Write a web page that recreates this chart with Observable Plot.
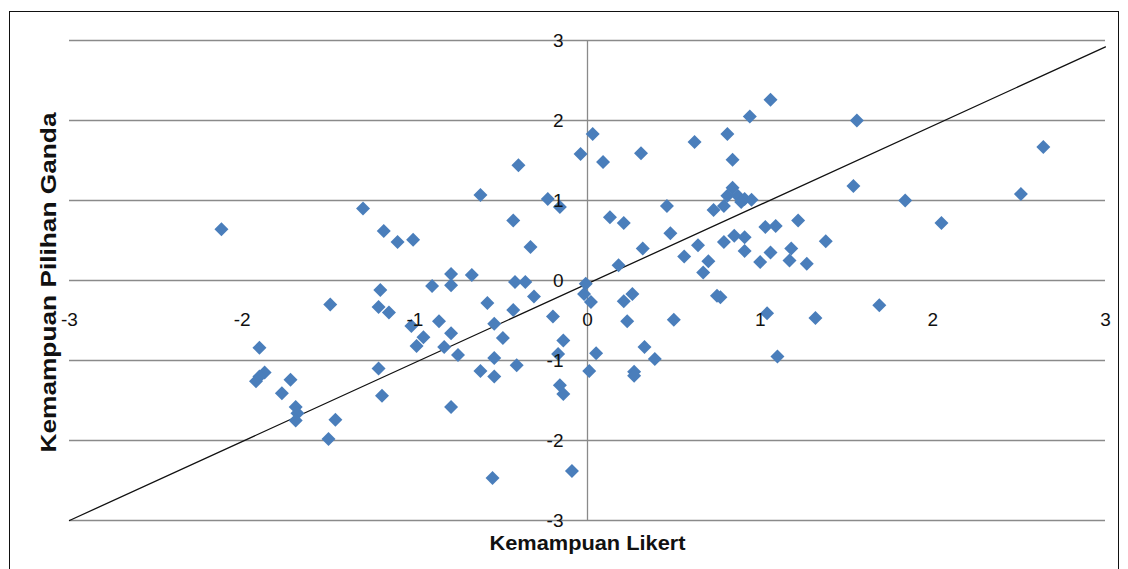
<!DOCTYPE html>
<html>
<head>
<meta charset="utf-8">
<script src="https://cdn.jsdelivr.net/npm/d3@7"></script>
<script src="https://cdn.jsdelivr.net/npm/@observablehq/plot@0.6"></script>
<style>
  html, body { margin: 0; padding: 0; background: #fff; }
  #wrap { position: relative; width: 1128px; height: 569px; overflow: hidden; background: #fff; }
  #frame { position: absolute; left: 9px; top: 11px; width: 1110px; height: 620px; border: 1.5px solid #111; box-sizing: border-box; pointer-events: none; }
  #wrap svg { position: absolute; left: 0; top: 0; }
</style>
</head>
<body>
<div id="wrap"><div id="frame"></div></div>
<script>
// Kemampuan Likert (x) and Kemampuan Pilihan Ganda (y)
const likert = [
  -2.12, -1.30, -1.18, -1.10, -1.01, -1.20, -1.49, -1.21, -1.15, -1.02, -0.99, -1.90,
  -1.87, -1.90, -1.92, -1.72, -1.77, -1.21, -1.19, -1.69, -1.68, -1.69, -1.46, -1.50,
  -0.04, -0.40, -0.62, -0.23, -0.16, -0.43, -0.33, -0.79, -0.67, -0.79, -0.90, -0.42,
  -0.36, -0.31, -0.58, -0.43, -0.20, -0.01, -0.02, 0.02, -0.86, -0.54, -0.95, -0.79,
  -0.83, -0.75, -0.49, -0.14, -0.17, 0.05, -0.54, -0.41, -0.62, -0.54, 0.01, -0.16,
  -0.14, -0.79, -0.09, -0.55,
  1.06, 0.94, 0.03, 0.81, 0.62, 0.31, 0.09, 0.84, 0.84, 0.81, 0.87, 0.91,
  0.95, 0.79, 0.73, 0.89, 0.46, 0.13, 0.21, 0.48, 1.03, 1.09, 0.79, 0.85,
  0.91, 0.91, 1.06, 1.00, 0.64, 0.56, 0.70, 0.67, 0.32, 0.18, 0.26, 0.21,
  0.77, 0.75, 0.23, 0.50, 1.04, 0.33, 0.39, 0.27, 0.27, 1.10,
  1.56, 1.54, 1.84, 2.05, 1.22, 1.38, 1.18, 1.17, 1.27, 1.69, 1.32,
  2.64, 2.51
];
const pilihan = [
  0.64, 0.90, 0.62, 0.48, 0.51, -0.12, -0.30, -0.33, -0.40, -0.57, -0.82, -0.84,
  -1.15, -1.20, -1.26, -1.24, -1.41, -1.10, -1.44, -1.58, -1.66, -1.75, -1.74, -1.98,
  1.58, 1.44, 1.07, 1.02, 0.92, 0.75, 0.42, 0.08, 0.07, -0.06, -0.07, -0.02,
  -0.02, -0.20, -0.28, -0.37, -0.45, -0.04, -0.17, -0.27, -0.51, -0.54, -0.71, -0.66,
  -0.83, -0.93, -0.72, -0.75, -0.92, -0.91, -0.97, -1.06, -1.13, -1.20, -1.13, -1.31,
  -1.42, -1.58, -2.38, -2.47,
  2.26, 2.05, 1.83, 1.83, 1.73, 1.59, 1.48, 1.51, 1.16, 1.06, 1.06, 1.02,
  1.01, 0.93, 0.88, 0.98, 0.93, 0.79, 0.72, 0.59, 0.67, 0.68, 0.48, 0.56,
  0.54, 0.37, 0.35, 0.23, 0.44, 0.30, 0.24, 0.10, 0.40, 0.19, -0.17, -0.26,
  -0.21, -0.19, -0.51, -0.49, -0.41, -0.83, -0.98, -1.14, -1.19, -0.95,
  2.00, 1.18, 1.00, 0.72, 0.75, 0.49, 0.40, 0.25, 0.21, -0.31, -0.47,
  1.67, 1.08
];
const xTicks = [-3, -2, -1, 0, 1, 2, 3];
const yTicks = [-3, -2, -1, 0, 1, 2, 3];
const refLineX = [-3, 3];
const refLineY = [-3, 2.92];
const xTitle = "Kemampuan Likert";
const yTitle = "Kemampuan Pilihan Ganda";

const points = likert.map((x, i) => ({x, y: pilihan[i]}));
const refLine = refLineX.map((x, i) => ({x, y: refLineY[i]}));

const chart = Plot.plot({
  width: 1128,
  height: 569,
  marginLeft: 69,
  marginRight: 23,
  marginTop: 40,
  marginBottom: 49,
  x: {domain: [-3, 3], axis: null},
  y: {domain: [-3, 3], axis: null},
  style: {fontFamily: "'Liberation Sans', 'DejaVu Sans', sans-serif", background: "transparent", color: "#111"},
  marks: [
    Plot.ruleY(yTicks, {y: d => d, stroke: "#8a8a8a", strokeWidth: 1.3}),
    Plot.ruleX([0], {x: d => d, stroke: "#8a8a8a", strokeWidth: 1.3}),
    Plot.line(refLine, {x: "x", y: "y", stroke: "#111", strokeWidth: 1.3}),
    Plot.dot(points, {x: "x", y: "y", symbol: "diamond2", r: 6.3, fill: "#4a7ebb", stroke: "none"}),
    Plot.text(xTicks, {x: d => d, y: 0, dy: 39, text: d => String(d), fontSize: 19, fill: "#111"}),
    Plot.text(yTicks, {x: 0, y: d => d, dx: -24, textAnchor: "end", text: d => String(d), fontSize: 19, fill: "#111"}),
    Plot.text([xTitle], {frameAnchor: "bottom", dy: 29, text: d => d, fontSize: 21, fontWeight: "bold", fill: "#111", className: "xtitle"}),
    Plot.text([yTitle], {frameAnchor: "left", dx: -21, dy: 2, rotate: -90, textAnchor: "middle", text: d => d, fontSize: 22, fontWeight: "bold", fill: "#111", className: "ytitle"})
  ]
});
document.getElementById("wrap").appendChild(chart);
// stretch the axis titles to the width they take in the reference
d3.select(chart).selectAll(".xtitle text").attr("textLength", 196).attr("lengthAdjust", "spacingAndGlyphs");
d3.select(chart).selectAll(".ytitle text").attr("textLength", 340).attr("lengthAdjust", "spacingAndGlyphs");
</script>
</body>
</html>
